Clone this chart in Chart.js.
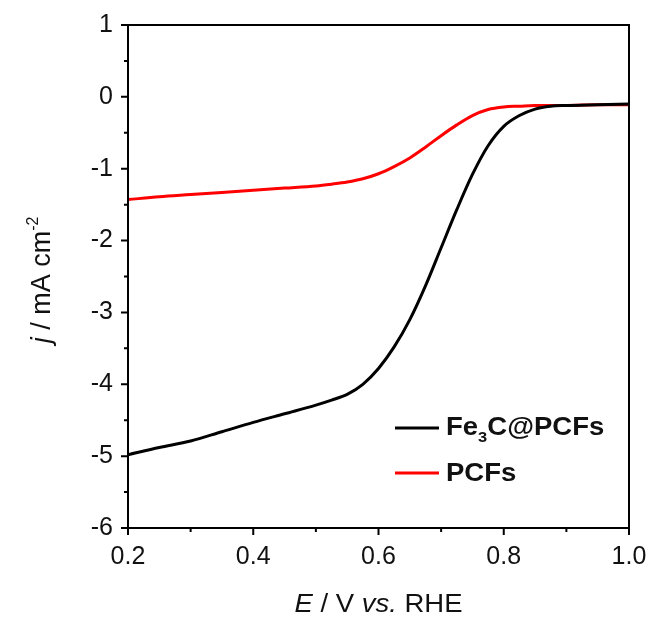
<!DOCTYPE html>
<html>
<head>
<meta charset="utf-8">
<script src="https://cdn.jsdelivr.net/npm/chart.js@4"></script>
<style>
  html, body { margin: 0; padding: 0; background: #fff; }
  #caja { width: 654px; height: 619px; }
</style>
</head>
<body>
<div id="caja"><canvas id="grafico-lsv"></canvas></div>
<script>
// potencial E (V vs. RHE)
const potenciales = [0.2, 0.25, 0.3, 0.35, 0.4, 0.45, 0.5, 0.525, 0.55, 0.575, 0.6, 0.625, 0.65,
                     0.675, 0.7, 0.725, 0.75, 0.775, 0.8, 0.825, 0.85, 0.875, 0.9, 0.95, 1.0];

// densidad de corriente j (mA cm-2) de cada muestra
const corriente_fe3c = [-4.98, -4.88, -4.79, -4.66, -4.53, -4.41, -4.29, -4.22, -4.14, -4.00, -3.78, -3.48, -3.10,
                        -2.63, -2.10, -1.57, -1.08, -0.68, -0.41, -0.26, -0.17, -0.13, -0.12, -0.11, -0.10];
const corriente_pcfs = [-1.43, -1.39, -1.36, -1.33, -1.30, -1.27, -1.24, -1.215, -1.185, -1.14, -1.07, -0.97, -0.85,
                        -0.70, -0.54, -0.39, -0.26, -0.175, -0.14, -0.13, -0.12, -0.12, -0.12, -0.11, -0.11];

const nombres_series = ['Fe3C@PCFs', 'PCFs'];
const colores_series = ['#000000', '#ff0000'];

// marcas del eje
const ticks_x_mayores = [0.2, 0.4, 0.6, 0.8, 1.0];
const ticks_x_menores = [0.3, 0.5, 0.7, 0.9];
const ticks_y_mayores = [1, 0, -1, -2, -3, -4, -5, -6];
const ticks_y_menores = [0.5, -0.5, -1.5, -2.5, -3.5, -4.5, -5.5];

const fuente = '"Liberation Sans", Arial, sans-serif';

// dibuja un texto hecho de varios pedazos (cursiva, subindice, etc)
// alinear: 'center' centra en x0, 'left' arranca en x0
// estirar: el texto del original se ve un poco ensanchado
function texto_mixto(ctx, pedazos, x0, base, alinear, estirar) {
    let ancho = 0;
    pedazos.forEach(p => { ctx.font = p.f; ancho += ctx.measureText(p.t).width; });
    ctx.save();
    ctx.translate(x0, base);
    ctx.scale(estirar, 1);
    let x = alinear === 'center' ? -ancho / 2 : 0;
    ctx.textAlign = 'left';
    ctx.textBaseline = 'alphabetic';
    pedazos.forEach(p => {
        ctx.font = p.f;
        ctx.fillText(p.t, x, p.dy || 0);
        x += ctx.measureText(p.t).width;
    });
    ctx.restore();
}

// marco, marcas, titulos de ejes y leyenda
const extras = {
    id: 'extras',
    afterDraw(chart) {
        const ctx = chart.ctx;
        const area = chart.chartArea;
        const sx = chart.scales.x, sy = chart.scales.y;
        ctx.save();
        ctx.strokeStyle = '#000';
        ctx.fillStyle = '#111';
        ctx.lineWidth = 2;
        ctx.strokeRect(area.left, area.top, area.right - area.left, area.bottom - area.top);

        ctx.beginPath();
        ticks_x_mayores.forEach(v => { const p = sx.getPixelForValue(v); ctx.moveTo(p, area.bottom); ctx.lineTo(p, area.bottom + 7); });
        ticks_x_menores.forEach(v => { const p = sx.getPixelForValue(v); ctx.moveTo(p, area.bottom); ctx.lineTo(p, area.bottom + 4); });
        ticks_y_mayores.forEach(v => { const p = sy.getPixelForValue(v); ctx.moveTo(area.left, p); ctx.lineTo(area.left - 7, p); });
        ticks_y_menores.forEach(v => { const p = sy.getPixelForValue(v); ctx.moveTo(area.left, p); ctx.lineTo(area.left - 4, p); });
        ctx.stroke();

        // titulo eje x
        texto_mixto(ctx, [
            { t: 'E', f: 'italic 25px ' + fuente },
            { t: ' / V ', f: '25px ' + fuente },
            { t: 'vs.', f: 'italic 25px ' + fuente },
            { t: ' RHE', f: '25px ' + fuente }
        ], (area.left + area.right) / 2, 612, 'center', 1.1);

        // titulo eje y (rotado)
        ctx.save();
        ctx.translate(50, 280);
        ctx.rotate(-Math.PI / 2);
        texto_mixto(ctx, [
            { t: 'j', f: 'italic 27px ' + fuente },
            { t: ' / mA cm', f: '27px ' + fuente },
            { t: '-2', f: '16px ' + fuente, dy: -12 }
        ], 0, 0, 'center', 1);
        ctx.restore();

        // leyenda
        const filas = [428, 473];
        ctx.lineWidth = 3;
        filas.forEach((y, i) => {
            ctx.strokeStyle = colores_series[i];
            ctx.beginPath();
            ctx.moveTo(395, y);
            ctx.lineTo(439, y);
            ctx.stroke();
        });
        texto_mixto(ctx, [
            { t: 'Fe', f: 'bold 25px ' + fuente },
            { t: '3', f: 'bold 15px ' + fuente, dy: 7 },
            { t: 'C@PCFs', f: 'bold 25px ' + fuente }
        ], 446, 435, 'left', 1.1);
        texto_mixto(ctx, [{ t: nombres_series[1], f: 'bold 25px ' + fuente }], 446, 481, 'left', 1.1);
        ctx.restore();
    }
};

const series = [corriente_fe3c, corriente_pcfs];

new Chart(document.getElementById('grafico-lsv').getContext('2d'), {
    type: 'line',
    data: {
        datasets: series.map((serie, i) => ({
            label: nombres_series[i],
            data: potenciales.map((e, k) => ({ x: e, y: serie[k] })),
            borderColor: colores_series[i],
            borderWidth: 3,
            pointRadius: 0,
            cubicInterpolationMode: 'monotone',
            fill: false
        }))
    },
    options: {
        responsive: true,
        maintainAspectRatio: false,
        animation: false,
        layout: { padding: { left: 0, right: 25, top: 25, bottom: 0 } },
        plugins: { legend: { display: false }, tooltip: { enabled: false } },
        scales: {
            x: {
                type: 'linear',
                min: 0.2, max: 1.0,
                afterBuildTicks: s => { s.ticks = ticks_x_mayores.map(v => ({ value: v })); },
                // el margen lo maneja layout.padding, no las etiquetas
                afterFit: s => { s.height = 91; s.paddingLeft = 0; s.paddingRight = 0; },
                grid: { display: false, drawTicks: false },
                border: { display: false },
                ticks: {
                    padding: 14,
                    color: '#111',
                    font: { family: fuente, size: 25 },
                    callback: v => Number(v).toFixed(1)
                }
            },
            y: {
                type: 'linear',
                min: -6, max: 1,
                afterBuildTicks: s => { s.ticks = ticks_y_mayores.map(v => ({ value: v })); },
                afterFit: s => { s.width = 128; s.paddingTop = 0; s.paddingBottom = 0; },
                grid: { display: false, drawTicks: false },
                border: { display: false },
                ticks: {
                    padding: 15,
                    color: '#111',
                    font: { family: fuente, size: 25 },
                    callback: v => String(v)
                }
            }
        }
    },
    plugins: [extras]
});
</script>
</body>
</html>
